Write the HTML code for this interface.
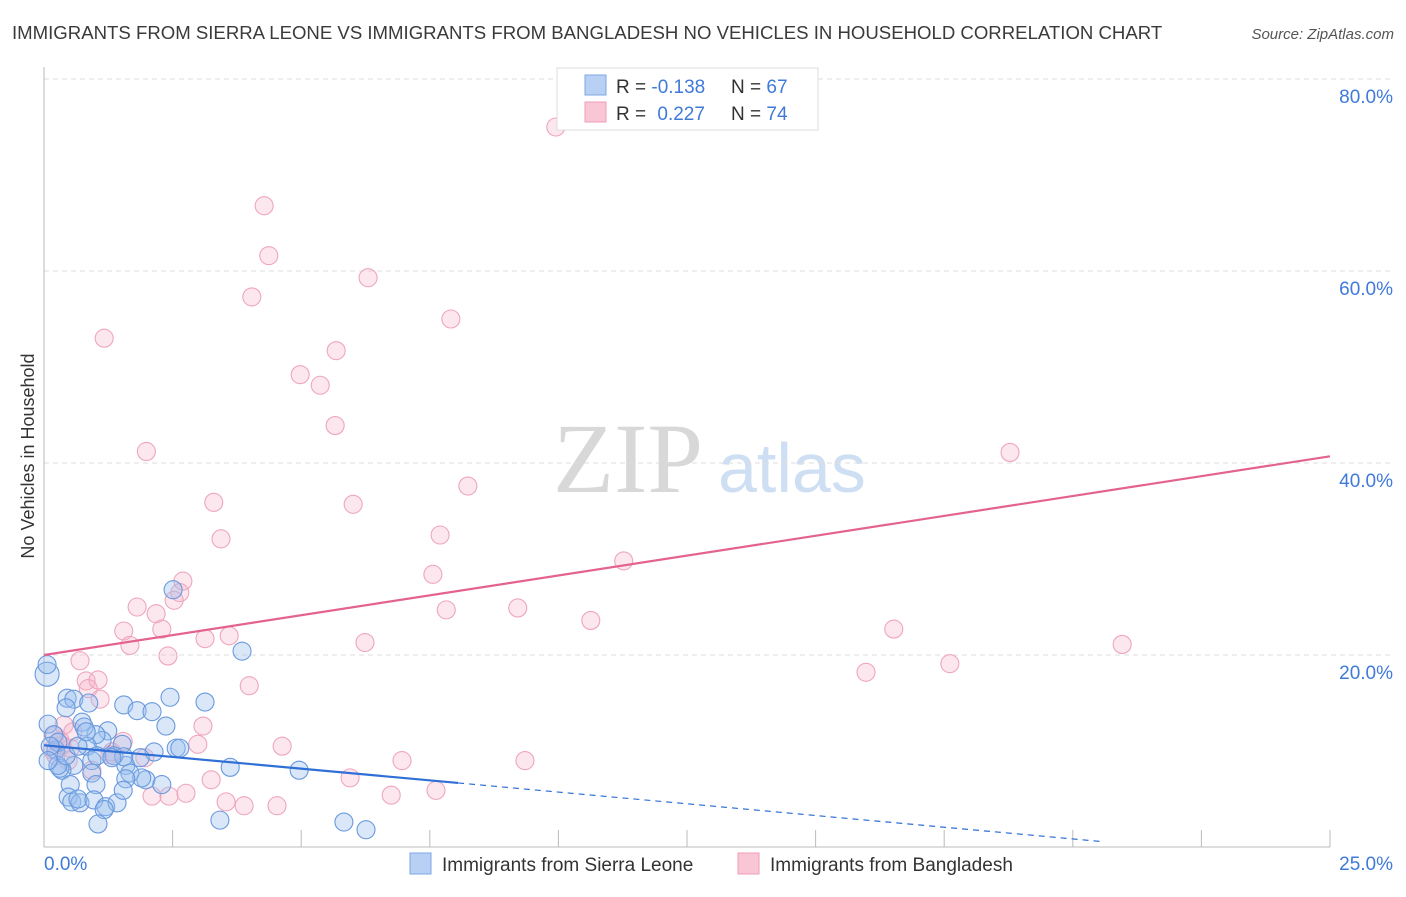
<!DOCTYPE html>
<html><head><meta charset="utf-8"><style>
body{margin:0;background:#fff;font-family:"Liberation Sans",sans-serif;}
svg text{font-family:"Liberation Sans",sans-serif;}
</style></head><body>
<svg id="chart" width="1406" height="892" xmlns="http://www.w3.org/2000/svg">
<text x="12" y="39" font-size="18.6" fill="#3a3a3a">IMMIGRANTS FROM SIERRA LEONE VS IMMIGRANTS FROM BANGLADESH NO VEHICLES IN HOUSEHOLD CORRELATION CHART</text>
<text x="1394" y="39" font-size="15" font-style="italic" fill="#555" text-anchor="end">Source: ZipAtlas.com</text>
<g>
<text x="553" y="492" style="font-family:'Liberation Serif',serif;font-size:100px" fill="#d8d8d8">ZIP</text>
<text x="718" y="492" font-size="70" fill="#cfdff3">atlas</text>
</g>
<g id="grid"></g>
<g id="axes"></g>
<g id="pts"></g>
<g id="lines"></g>
<text transform="translate(34,456) rotate(-90)" font-size="18" fill="#333" text-anchor="middle">No Vehicles in Household</text>
<g>
<rect x="557" y="68" width="261" height="62" fill="#fff" stroke="#ddd"/>
<rect x="585" y="75" width="21" height="20" fill="#b8d0f4" stroke="#7da6e3"/>
<rect x="585" y="102" width="21" height="20" fill="#f9c6d5" stroke="#ee9db6"/>
<text x="616" y="93" font-size="19" fill="#333">R = <tspan fill="#3f7ad9">-0.138</tspan></text>
<text x="731" y="93" font-size="19" fill="#333">N = <tspan fill="#3f7ad9">67</tspan></text>
<text x="616" y="120" font-size="19" fill="#333">R = <tspan fill="#3f7ad9" dx="6">0.227</tspan></text>
<text x="731" y="120" font-size="19" fill="#333">N = <tspan fill="#3f7ad9">74</tspan></text>
</g>
<g>
<rect x="410" y="853" width="21" height="21" fill="#b8d0f4" stroke="#7da6e3"/>
<text x="442" y="871" font-size="19" fill="#333">Immigrants from Sierra Leone</text>
</g>
<g>
<rect x="738" y="853" width="21" height="21" fill="#f9c6d5" stroke="#ee9db6"/>
<text x="770" y="871" font-size="19" fill="#333">Immigrants from Bangladesh</text>
</g>
</svg>
<script>
const yTicks=[20,40,60,80];
const yTickLabels=["20.0%","40.0%","60.0%","80.0%"];
const xTickCount=10;
const blueRegression=[10.6,-0.488];
const pinkRegression=[20.0,0.828];
const blueSolidEnd=8.05, blueDashEnd=20.6;
const blueX=[0.06,0.06,0.45,0.58,0.43,0.87,1.55,1.81,2.1,2.45,3.13,3.85,2.51,2.37,1.24,1.13,1.01,0.74,0.78,0.08,0.19,0.23,0.27,0.84,0.93,1.03,1.52,2.57,2.14,1.59,1.36,1.67,1.98,1.9,1.59,0.93,0.58,0.35,0.31,0.51,1.01,0.47,0.54,0.7,0.66,0.97,1.2,1.42,1.54,1.17,1.05,3.42,5.83,6.26,3.62,4.96,2.29,1.87,1.55,1.32,0.27,0.43,0.66,0.12,2.64,0.82,0.08];
const blueY=[18.0,19.0,15.5,15.4,14.5,15.0,14.8,14.2,14.1,15.6,15.1,20.4,26.8,12.6,12.1,11.1,11.7,13.0,12.5,12.8,11.7,10.1,10.9,10.5,9.0,9.5,10.7,10.3,9.9,8.5,9.5,7.7,7.0,7.2,7.1,7.7,8.5,8.0,8.2,6.5,6.5,5.2,4.7,4.6,5.0,4.9,4.2,4.6,5.9,3.9,2.4,2.8,2.6,1.8,8.3,8.0,6.5,9.3,9.4,9.3,8.5,9.5,10.5,10.5,10.3,12.0,9.0];
const pinkX=[9.95,4.28,4.37,4.04,6.3,1.17,7.91,5.68,4.98,5.37,5.66,1.99,18.78,3.3,6.01,8.24,3.44,7.7,11.27,7.56,2.7,2.64,1.81,2.18,7.82,9.21,2.53,1.55,2.29,10.63,3.13,3.6,1.67,16.52,6.24,20.96,2.41,0.7,17.61,15.98,3.99,0.82,1.05,0.86,1.09,3.09,0.39,4.63,2.99,1.54,1.32,6.96,9.35,0.56,0.31,0.16,0.47,0.93,3.25,5.95,2.76,2.1,2.43,3.54,3.89,4.53,6.75,7.62,0.23,0.35,1.96,0.51,0.21,1.28];
const pinkY=[75.0,66.8,61.6,57.3,59.3,53.0,55.0,51.7,49.2,48.1,43.9,41.2,41.1,35.9,35.7,37.6,32.1,32.5,29.8,28.4,27.7,26.5,25.0,24.3,24.7,24.9,25.7,22.5,22.7,23.6,21.7,22.0,21.0,22.7,21.3,21.1,19.9,19.4,19.1,18.2,16.8,17.3,17.4,16.5,15.4,12.6,12.7,10.5,10.7,11.0,9.9,9.0,9.0,12.0,11.1,10.1,9.0,8.0,7.0,7.2,5.6,5.3,5.3,4.7,4.3,4.3,5.4,5.9,9.5,10.6,9.3,10.3,11.6,9.6];
const X0=44,X1=1330,YB=847,YPX=9.6;
const sx=v=>X0+v/25*(X1-X0);
const sy=v=>YB-v*YPX;
const NS="http://www.w3.org/2000/svg";
function mk(t,a,p){const e=document.createElementNS(NS,t);for(const k in a)e.setAttribute(k,a[k]);p.appendChild(e);return e;}
const grid=document.getElementById('grid'),axes=document.getElementById('axes'),pts=document.getElementById('pts'),lines=document.getElementById('lines');
yTicks.forEach((t,i)=>{
 const l=mk('line',{x1:X0,x2:1393,y1:sy(t),y2:sy(t),stroke:'#ddd','stroke-dasharray':'5,4'},grid);
 
 
 const tx=mk('text',{x:1393,y:sy(t)+24,'font-size':19,fill:'#3f7ad9','text-anchor':'end'},grid);
 tx.textContent=yTickLabels[i];
 
 
});
const ya=mk('line',{x1:X0,x2:X0,y1:67,y2:YB,stroke:'#bbb'},axes);


const xa=mk('line',{x1:X0,x2:X1,y1:YB,y2:YB,stroke:'#bbb'},axes);


for(let i=1;i<=xTickCount;i++){const v=25*i/xTickCount;
 const t=mk('line',{x1:sx(v),x2:sx(v),y1:830,y2:YB,stroke:'#bbb'},axes);
 
 }
const xl0=mk('text',{x:X0,y:870,'font-size':19,fill:'#3f7ad9'},axes);xl0.textContent='0.0%';


const xl1=mk('text',{x:1393,y:870,'font-size':19,fill:'#3f7ad9','text-anchor':'end'},axes);xl1.textContent='25.0%';


pinkX.forEach((x,i)=>{
 const c=mk('circle',{cx:sx(x),cy:sy(pinkY[i]),r:9,fill:'rgba(245,175,198,0.3)',stroke:'#eea6bd','stroke-width':1.1},pts);
 
 
});
blueX.forEach((x,i)=>{
 const c=mk('circle',{cx:sx(x),cy:sy(blueY[i]),r:i==0?12:9,fill:'rgba(155,193,240,0.38)',stroke:'#6a99de','stroke-width':1.1},pts);
 
 
});
const bf=x=>blueRegression[0]+blueRegression[1]*x, pf=x=>pinkRegression[0]+pinkRegression[1]*x;
const bl=mk('line',{x1:sx(0),y1:sy(bf(0)),x2:sx(blueSolidEnd),y2:sy(bf(blueSolidEnd)),stroke:'#2f6fd6','stroke-width':2.2},lines);


const bd=mk('line',{x1:sx(blueSolidEnd),y1:sy(bf(blueSolidEnd)),x2:sx(blueDashEnd),y2:sy(bf(blueDashEnd)),stroke:'#2f6fd6','stroke-width':1.2,'stroke-dasharray':'6,5'},lines);


const pl=mk('line',{x1:sx(0),y1:sy(pf(0)),x2:sx(25),y2:sy(pf(25)),stroke:'#e4628e','stroke-width':2.2},lines);


</script>
</body></html>
